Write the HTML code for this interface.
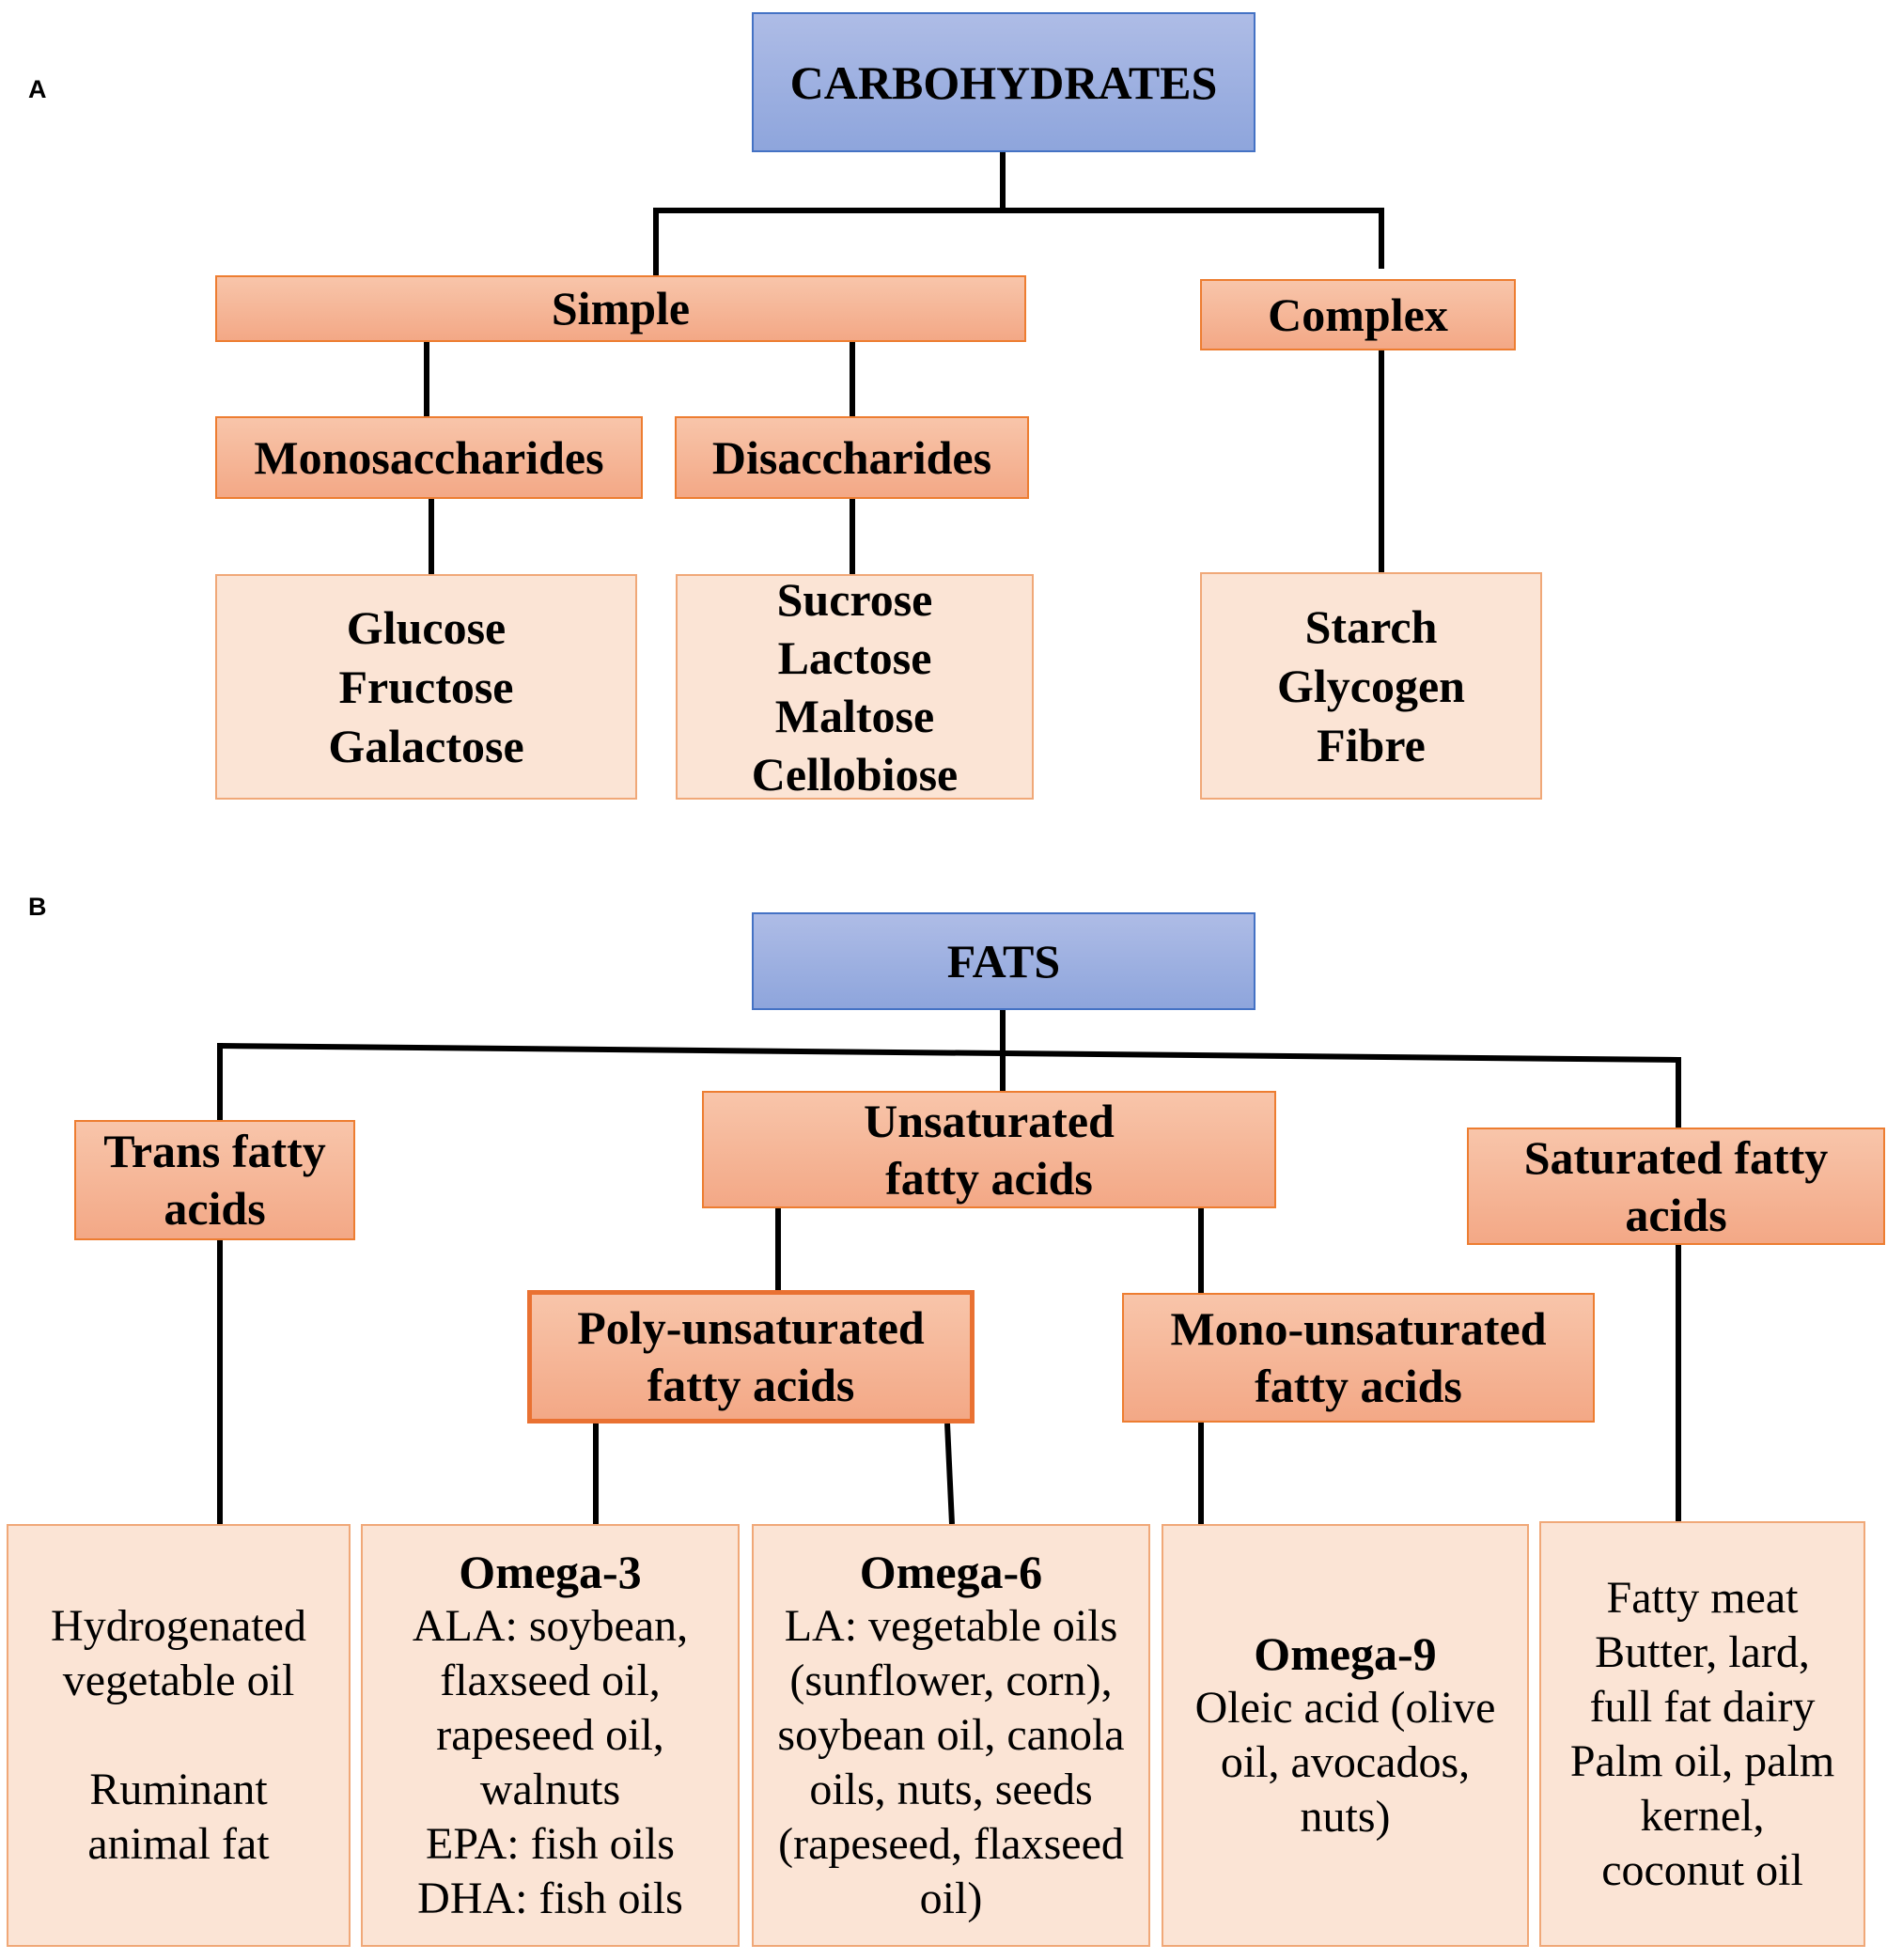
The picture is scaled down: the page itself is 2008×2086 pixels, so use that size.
<!DOCTYPE html>
<html><head><meta charset="utf-8"><style>
body{margin:0;width:2008px;height:2086px;background:#fff;position:relative;overflow:hidden;font-family:"Liberation Serif",serif;}
.b{position:absolute;box-sizing:border-box;display:flex;flex-direction:column;align-items:center;justify-content:center;text-align:center;color:#000;}
.blue{background:linear-gradient(#aebce6,#8ea5dc);border:2px solid #4472c4;font-weight:bold;font-size:50px;}
.sal{background:linear-gradient(#f8c5aa,#f3a886);border:2px solid #ed7d31;font-weight:bold;font-size:50px;line-height:61px;}
.leaf{background:#fbe4d5;border:2px solid #f0a878;font-size:48px;line-height:58px;}
.leafb{font-weight:bold;font-size:50px;line-height:63px;}
.lbl{position:absolute;font-family:"Liberation Sans",sans-serif;font-weight:bold;font-size:27px;}
svg{position:absolute;left:0;top:0;}
</style></head><body>
<svg width="2008" height="2086" stroke="#000" stroke-width="6" fill="none">
<line x1="1067" y1="162" x2="1067" y2="224"/>
<line x1="698" y1="224" x2="1470" y2="224"/>
<line x1="698" y1="221" x2="698" y2="293"/>
<line x1="1470" y1="221" x2="1470" y2="286"/>
<line x1="454" y1="364" x2="454" y2="443"/>
<line x1="907" y1="364" x2="907" y2="443"/>
<line x1="459" y1="531" x2="459" y2="611"/>
<line x1="907" y1="531" x2="907" y2="611"/>
<line x1="1470" y1="373" x2="1470" y2="609"/>
<line x1="1067" y1="1075" x2="1067" y2="1161"/>
<line x1="234" y1="1113" x2="1786" y2="1128"/>
<line x1="234" y1="1110" x2="234" y2="1192"/>
<line x1="1786" y1="1125" x2="1786" y2="1200"/>
<line x1="234" y1="1320" x2="234" y2="1622"/>
<line x1="828" y1="1286" x2="828" y2="1373"/>
<line x1="1278" y1="1286" x2="1278" y2="1376"/>
<line x1="634" y1="1515" x2="634" y2="1622"/>
<line x1="1008" y1="1515" x2="1013" y2="1622"/>
<line x1="1278" y1="1514" x2="1278" y2="1627"/>
<line x1="1786" y1="1325" x2="1786" y2="1619"/>
</svg>
<div class="lbl" style="left:30px;top:80px">A</div>
<div class="lbl" style="left:30px;top:950px">B</div>

<div class="b blue" style="left:800px;top:13px;width:536px;height:149px">CARBOHYDRATES</div>
<div class="b sal" style="left:229px;top:293px;width:863px;height:71px">Simple</div>
<div class="b sal" style="left:1277px;top:297px;width:336px;height:76px">Complex</div>
<div class="b sal" style="left:229px;top:443px;width:455px;height:88px">Monosaccharides</div>
<div class="b sal" style="left:718px;top:443px;width:377px;height:88px">Disaccharides</div>
<div class="b leaf leafb" style="left:229px;top:611px;width:449px;height:240px"><div>Glucose</div><div>Fructose</div><div>Galactose</div></div>
<div class="b leaf leafb" style="left:719px;top:611px;width:381px;height:240px;line-height:62px"><div>Sucrose</div><div>Lactose</div><div>Maltose</div><div>Cellobiose</div></div>
<div class="b leaf leafb" style="left:1277px;top:609px;width:364px;height:242px"><div>Starch</div><div>Glycogen</div><div>Fibre</div></div>

<div class="b blue" style="left:800px;top:971px;width:536px;height:104px">FATS</div>
<div class="b sal" style="left:79px;top:1192px;width:299px;height:128px"><div>Trans fatty</div><div>acids</div></div>
<div class="b sal" style="left:747px;top:1161px;width:611px;height:125px"><div>Unsaturated</div><div>fatty acids</div></div>
<div class="b sal" style="left:1561px;top:1200px;width:445px;height:125px"><div>Saturated fatty</div><div>acids</div></div>
<div class="b sal" style="left:561px;top:1373px;width:476px;height:142px;border:5px solid #e97132"><div>Poly-unsaturated</div><div>fatty acids</div></div>
<div class="b sal" style="left:1194px;top:1376px;width:503px;height:138px"><div>Mono-unsaturated</div><div>fatty acids</div></div>

<div class="b leaf" style="left:7px;top:1622px;width:366px;height:450px"><div>Hydrogenated</div><div>vegetable oil</div><div>&nbsp;</div><div>Ruminant</div><div>animal fat</div></div>
<div class="b leaf" style="left:384px;top:1622px;width:403px;height:450px"><div style="font-weight:bold;font-size:50px">Omega-3</div><div>ALA: soybean,</div><div>flaxseed oil,</div><div>rapeseed oil,</div><div>walnuts</div><div>EPA: fish oils</div><div>DHA: fish oils</div></div>
<div class="b leaf" style="left:800px;top:1622px;width:424px;height:450px"><div style="font-weight:bold;font-size:50px">Omega-6</div><div>LA: vegetable oils</div><div>(sunflower, corn),</div><div>soybean oil, canola</div><div>oils, nuts, seeds</div><div>(rapeseed, flaxseed</div><div>oil)</div></div>
<div class="b leaf" style="left:1236px;top:1622px;width:391px;height:450px"><div style="font-weight:bold;font-size:50px">Omega-9</div><div>Oleic acid (olive</div><div>oil, avocados,</div><div>nuts)</div></div>
<div class="b leaf" style="left:1638px;top:1619px;width:347px;height:453px"><div>Fatty meat</div><div>Butter, lard,</div><div>full fat dairy</div><div>Palm oil, palm</div><div>kernel,</div><div>coconut oil</div></div>
</body></html>
